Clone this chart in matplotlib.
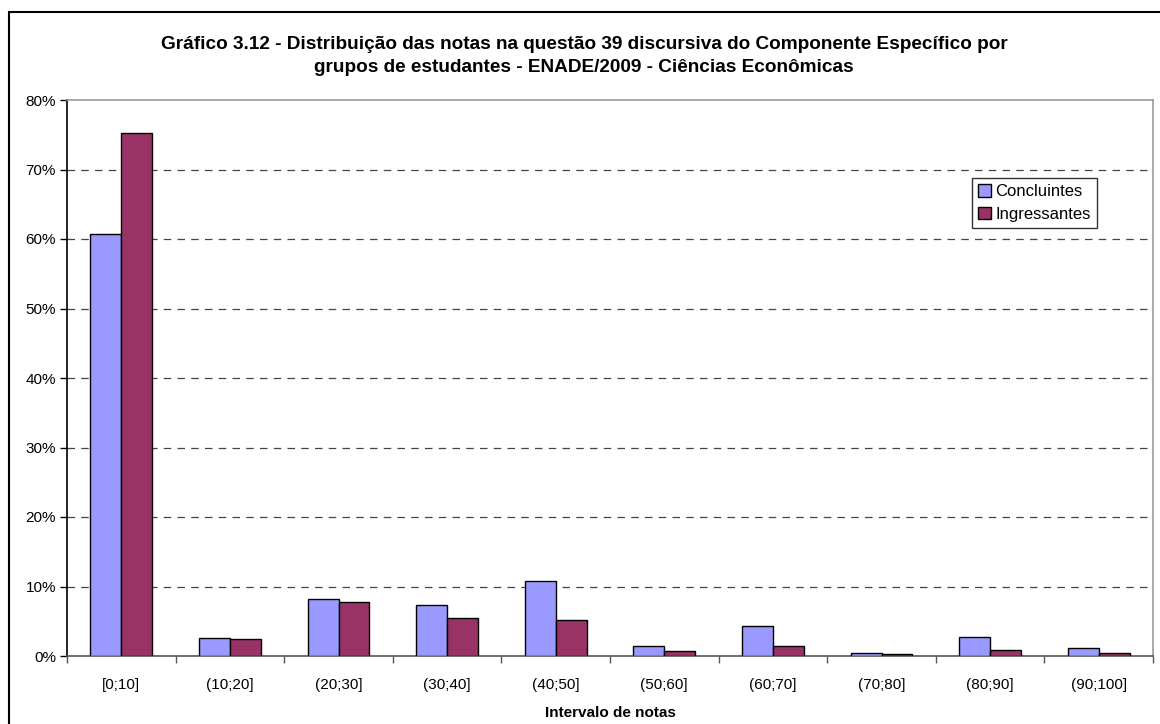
import matplotlib
import numpy as np

matplotlib.use("Agg")
import matplotlib.pyplot as plt
from matplotlib.patches import Rectangle
from matplotlib.ticker import FixedLocator, PercentFormatter

plt.rcParams["font.family"] = ["Liberation Sans", "DejaVu Sans"]

# data (percent of students)
intervals = ["[0;10]", "(10;20]", "(20;30]", "(30;40]", "(40;50]",
             "(50;60]", "(60;70]", "(70;80]", "(80;90]", "(90;100]"]
concluintes = [60.7, 2.6, 8.2, 7.3, 10.8, 1.5, 4.3, 0.5, 2.8, 1.1]
ingressantes = [75.2, 2.4, 7.7, 5.4, 5.2, 0.7, 1.5, 0.3, 0.9, 0.5]
series_names = ["Concluintes", "Ingressantes"]

title = ("Gráfico 3.12 - Distribuição das notas na questão 39 discursiva do Componente Específico por\n"
         "grupos de estudantes - ENADE/2009 - Ciências Econômicas")

W, H = 1160, 724
fig = plt.figure(figsize=(W / 100, H / 100), dpi=100)
fig.patch.set_facecolor("white")

# outer chart frame (right and bottom edges fall outside the picture)
fig.patches.append(Rectangle((9 / W, -0.05), 1.2, 1 - 12 / H + 0.05,
                             transform=fig.transFigure, fill=False,
                             edgecolor="black", linewidth=1.5))

ax = fig.add_axes([67 / W, (H - 656) / H, (1153 - 67) / W, (656 - 100) / H])

x = np.arange(len(intervals))
width = 0.285
ax.bar(x - width / 2, concluintes, width, color="#9999FF", edgecolor="black",
       linewidth=1.0, label=series_names[0], zorder=3)
ax.bar(x + width / 2, ingressantes, width, color="#993366", edgecolor="black",
       linewidth=1.0, label=series_names[1], zorder=3)

ax.set_xlim(-0.5, len(intervals) - 0.5)
ax.set_ylim(0, 80)
ax.yaxis.set_major_locator(FixedLocator(np.arange(0, 81, 10)))
ax.yaxis.set_major_formatter(PercentFormatter(decimals=0))
for y in range(10, 80, 10):
    ax.axhline(y, color="#444444", linewidth=0.9, dashes=(6, 5), zorder=1)

ax.set_xticks(x)
ax.set_xticklabels(intervals)
ax.set_xticks(np.arange(-0.5, len(intervals)), minor=True)
ax.tick_params(axis="x", which="major", length=0, pad=16, labelsize=11)
ax.tick_params(axis="x", which="minor", length=5, width=1, color="#555555",
               direction="out")
ax.tick_params(axis="y", length=5, width=1, labelsize=11, pad=3)

ax.spines["left"].set_color("black")
ax.spines["bottom"].set_color("#555555")
ax.spines["top"].set_color("#999999")
ax.spines["right"].set_color("#999999")
for s in ax.spines.values():
    s.set_linewidth(1.2)

ax.set_xlabel("Intervalo de notas", fontsize=11, fontweight="bold", labelpad=10)

fig.text(584 / W, 1 - 56 / H, title, ha="center", va="center",
         fontsize=13.7, fontweight="bold", linespacing=1.5)

leg = ax.legend(loc="upper left", bbox_to_anchor=((972 - 67) / (1153 - 67), (656 - 178) / (656 - 100)),
                fontsize=12, frameon=True, fancybox=False, borderpad=0.35,
                handlelength=0.8, handleheight=0.8, handletextpad=0.25,
                labelspacing=0.45, borderaxespad=0)
leg.get_frame().set_edgecolor("black")
leg.get_frame().set_linewidth(1.0)

fig.savefig("out.png", dpi=100)
